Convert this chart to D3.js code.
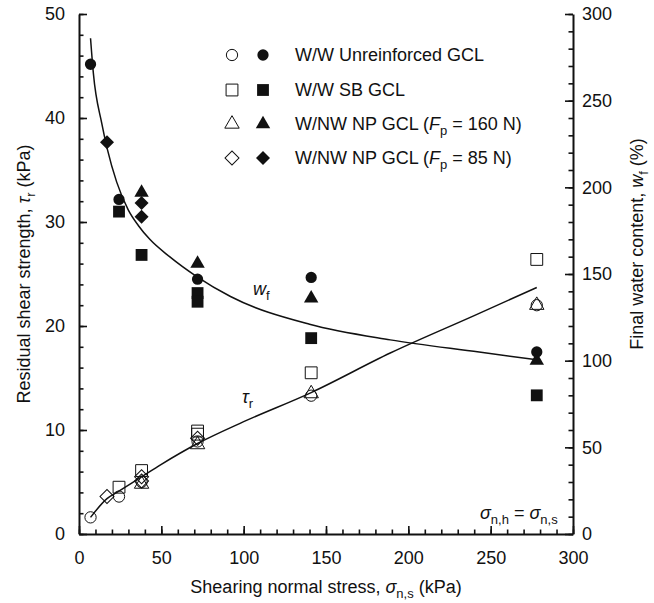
<!DOCTYPE html>
<html>
<head>
<meta charset="utf-8">
<script src="https://cdn.jsdelivr.net/npm/d3@7"></script>
<style>
  body { margin: 0; background: #fff; }
  text { font-family: "Liberation Sans", Arial, Helvetica, sans-serif; fill: #111; }
</style>
</head>
<body>
<script>
// Tick values for the three axes
var sigmaTicks = [0, 50, 100, 150, 200, 250, 300];
var tauTicks = [0, 10, 20, 30, 40, 50];
var wTicks = [0, 50, 100, 150, 200, 250, 300];

// Residual shear strength (open symbols), [sigma, tau]
var unreinfTau = [[7, 1.6], [24.3, 3.6], [38, 5.0], [72, 8.9], [141, 13.3], [278, 22.0]];
var sbTau = [[24.3, 4.5], [38, 6.1], [72, 9.9], [72, 9.6], [141, 15.5], [278, 26.4]];
var np160Tau = [[38, 4.8], [72, 8.6], [141, 13.5], [278, 22.0]];
var np85Tau = [[17, 3.6], [38, 5.5], [38, 5.1], [72, 9.2]];

// Final water content (filled symbols), [sigma, w]
var unreinfW = [[7, 271], [24.3, 193], [72, 147], [141, 148], [278, 105]];
var sbW = [[24.3, 186], [38, 161], [72, 139], [72, 134], [141, 113], [278, 80]];
var np160W = [[38, 197], [72, 156], [141, 136], [278, 100]];
var np85W = [[17, 226], [38, 191], [38, 183]];

// Trend curves
var tauFit = [[7, 1.6], [17, 3.4], [24, 4.1], [38, 5.5], [50, 6.7], [72, 8.7], [100, 10.8],
              [141, 13.6], [189, 17.4], [240, 21.0], [278, 23.7]];
var wFit = [[7, 286], [8.7, 266], [13.8, 237], [17.2, 222], [22.9, 203], [29.9, 187], [36, 178],
            [43, 170], [55, 160], [71.5, 148.5], [92, 137], [140, 121], [189, 112], [243, 105], [278, 100.5]];

var legendNames = ["W/W Unreinforced GCL", "W/W SB GCL", "W/NW NP GCL (", "W/NW NP GCL ("];
var legendForce = [null, null, "160", "85"];

var width = 654, height = 603;

var svg = d3.select("body").append("svg")
    .attr("width", width)
    .attr("height", height);

// Scales
var x = d3.scaleLinear().domain([0, 300]).range([79, 573]);
var yL = d3.scaleLinear().domain([0, 50]).range([534, 14]);
var yR = d3.scaleLinear().domain([0, 300]).range([534, 14]);

// Minor ticks
function minorAxis(axis, values) {
    return axis.tickValues(values).tickFormat("").tickSizeInner(-4.5).tickSizeOuter(0);
}
svg.append("g").attr("class", "minor")
    .attr("transform", "translate(0,534)")
    .call(minorAxis(d3.axisBottom(x), d3.range(0, 301, 10)));
svg.append("g").attr("class", "minor")
    .attr("transform", "translate(79,0)")
    .call(minorAxis(d3.axisLeft(yL), d3.range(0, 51, 2)));
svg.append("g").attr("class", "minor")
    .attr("transform", "translate(573,0)")
    .call(minorAxis(d3.axisRight(yR), d3.range(0, 301, 10)));
svg.selectAll(".minor .domain").remove();

// Major axes
var xAxis = svg.append("g")
    .attr("transform", "translate(0,534)")
    .call(d3.axisBottom(x).tickValues(sigmaTicks).tickSizeInner(-8).tickSizeOuter(0).tickPadding(17));
var yAxisL = svg.append("g")
    .attr("transform", "translate(79,0)")
    .call(d3.axisLeft(yL).tickValues(tauTicks).tickSizeInner(-8).tickSizeOuter(0).tickPadding(14));
var yAxisR = svg.append("g")
    .attr("transform", "translate(573,0)")
    .call(d3.axisRight(yR).tickValues(wTicks).tickSizeInner(-8).tickSizeOuter(0).tickPadding(9));

svg.selectAll(".domain").attr("stroke", "#111").attr("stroke-width", 2);
svg.selectAll(".tick line").attr("stroke", "#111").attr("stroke-width", 1.6);
svg.selectAll(".tick text").attr("font-size", "18px").attr("font-family", "Liberation Sans, Arial, sans-serif").attr("fill", "#111");

// Axis titles
var xt = svg.append("text").attr("x", 326).attr("y", 593)
    .attr("text-anchor", "middle").attr("font-size", "18px");
xt.append("tspan").text("Shearing normal stress, ");
xt.append("tspan").attr("font-style", "italic").text("\u03c3");
xt.append("tspan").attr("font-size", "13px").attr("dy", 5).text("n,s");
xt.append("tspan").attr("dy", -5).text(" (kPa)");

var ylt = svg.append("text").attr("transform", "translate(30,274) rotate(-90)")
    .attr("text-anchor", "middle").attr("font-size", "18px");
ylt.append("tspan").text("Residual shear strength, ");
ylt.append("tspan").attr("font-style", "italic").text("\u03c4");
ylt.append("tspan").attr("font-size", "13px").attr("dy", 5).text("r");
ylt.append("tspan").attr("dy", -5).text(" (kPa)");

var yrt = svg.append("text").attr("transform", "translate(643,244) rotate(-90)")
    .attr("text-anchor", "middle").attr("font-size", "18px");
yrt.append("tspan").text("Final water content, ");
yrt.append("tspan").attr("font-style", "italic").text("w");
yrt.append("tspan").attr("font-size", "13px").attr("dy", 5).text("f");
yrt.append("tspan").attr("dy", -5).text(" (%)");

// Trend curves
var tauLine = d3.line()
    .x(function (d) { return x(d[0]); })
    .y(function (d) { return yL(d[1]); })
    .curve(d3.curveMonotoneX);
var wLine = d3.line()
    .x(function (d) { return x(d[0]); })
    .y(function (d) { return yR(d[1]); })
    .curve(d3.curveMonotoneX);

svg.append("path").datum(tauFit)
    .attr("fill", "none").attr("stroke", "#111").attr("stroke-width", 1.5)
    .attr("d", tauLine);
svg.append("path").datum(wFit)
    .attr("fill", "none").attr("stroke", "#111").attr("stroke-width", 1.5)
    .attr("d", wLine);

// Symbol helpers
var symTypes = ["circle", "square", "triangle", "diamond"];
function symbolPath(kind) {
    if (kind === "circle") return d3.symbol().type(d3.symbolCircle).size(100)();
    if (kind === "square") return d3.symbol().type(d3.symbolSquare).size(140)();
    if (kind === "triangle") return d3.symbol().type(d3.symbolTriangle).size(90)();
    return d3.symbol().type(d3.symbolSquare).size(98)();
}
function drawSymbols(data, kind, yScale, filled) {
    svg.append("g").selectAll("path")
        .data(data)
        .enter().append("path")
        .attr("d", symbolPath(kind))
        .attr("transform", function (d) {
            return "translate(" + x(d[0]) + "," + yScale(d[1]) + ")" + (kind === "diamond" ? " rotate(45)" : "");
        })
        .attr("fill", filled ? "#111" : "none")
        .attr("stroke", "#111")
        .attr("stroke-width", filled ? 0 : 1);
}

// Open symbols: residual shear strength
drawSymbols(unreinfTau, "circle", yL, false);
drawSymbols(sbTau, "square", yL, false);
drawSymbols(np160Tau, "triangle", yL, false);
drawSymbols(np85Tau, "diamond", yL, false);

// Filled symbols: final water content
drawSymbols(sbW, "square", yR, true);
drawSymbols(unreinfW, "circle", yR, true);
drawSymbols(np160W, "triangle", yR, true);
drawSymbols(np85W, "diamond", yR, true);

// Curve labels
var wl = svg.append("text").attr("x", 253).attr("y", 295).attr("font-size", "18px");
wl.append("tspan").attr("font-style", "italic").text("w");
wl.append("tspan").attr("font-size", "13px").attr("dy", 5).text("f");

var tl = svg.append("text").attr("x", 242).attr("y", 403).attr("font-size", "18px");
tl.append("tspan").attr("font-style", "italic").text("\u03c4");
tl.append("tspan").attr("font-size", "13px").attr("dy", 5).text("r");

var sl = svg.append("text").attr("x", 480).attr("y", 519).attr("font-size", "18px");
sl.append("tspan").attr("font-style", "italic").text("\u03c3");
sl.append("tspan").attr("font-size", "13px").attr("dy", 5).text("n,h");
sl.append("tspan").attr("dy", -5).text(" = ");
sl.append("tspan").attr("font-style", "italic").text("\u03c3");
sl.append("tspan").attr("font-size", "13px").attr("dy", 5).text("n,s");

// Legend
var legendRows = [55, 90, 124, 158];
legendNames.forEach(function (name, i) {
    var kind = symTypes[i];
    var ly = legendRows[i];
    [[232, false], [263, true]].forEach(function (s) {
        svg.append("path")
            .attr("d", symbolPath(kind))
            .attr("transform", "translate(" + s[0] + "," + ly + ")" + (kind === "diamond" ? " rotate(45)" : ""))
            .attr("fill", s[1] ? "#111" : "none")
            .attr("stroke", "#111")
            .attr("stroke-width", s[1] ? 0 : 1);
    });
    var t = svg.append("text").attr("x", 295).attr("y", ly + 6).attr("font-size", "18px");
    t.append("tspan").text(name);
    if (legendForce[i]) {
        t.append("tspan").attr("font-style", "italic").text("F");
        t.append("tspan").attr("font-size", "13px").attr("dy", 5).text("p");
        t.append("tspan").attr("dy", -5).text(" = " + legendForce[i] + " N)");
    }
});
</script>
</body>
</html>
